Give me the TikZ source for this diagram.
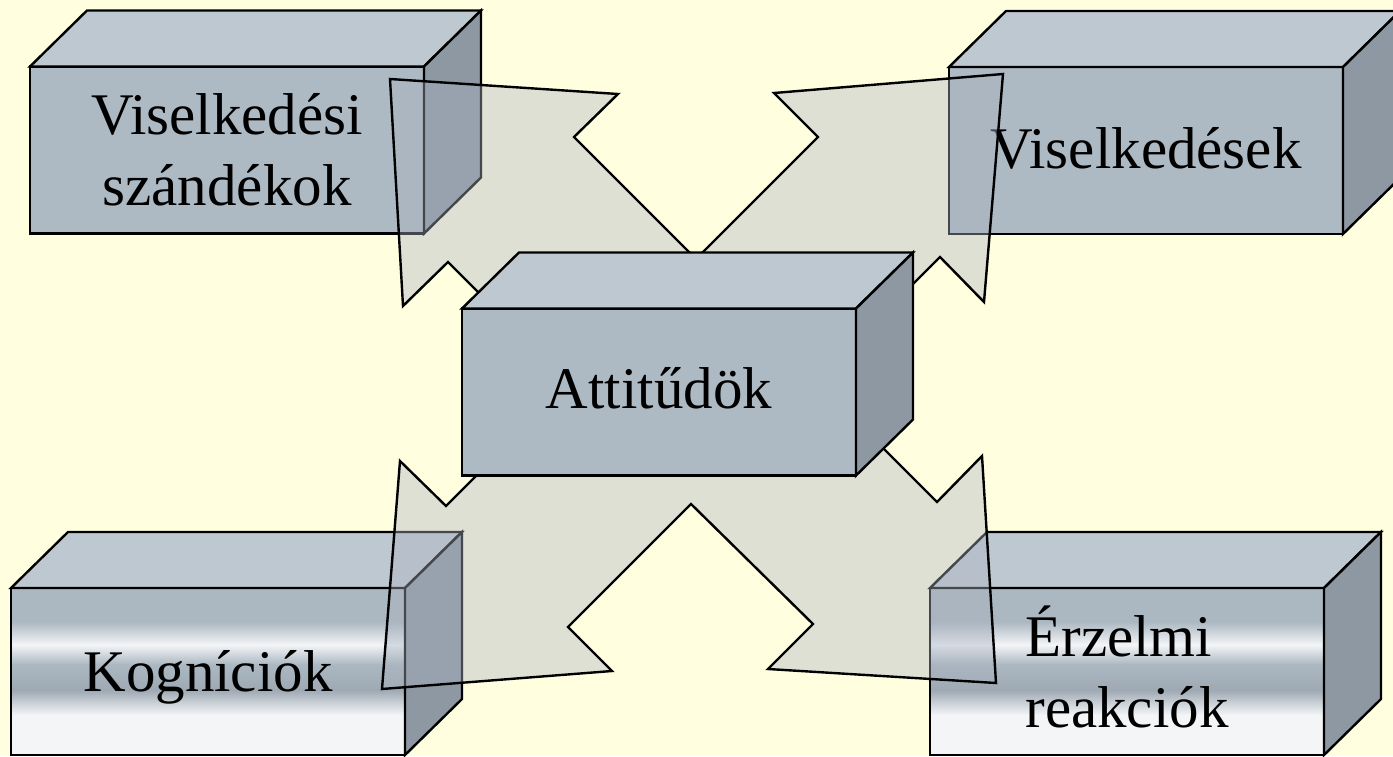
\documentclass[tikz,border=0pt]{standalone}
\usepackage{fontspec}
\setmainfont{Liberation Serif}

\definecolor{paper}{RGB}{255,255,224}
\definecolor{facefront}{RGB}{173,185,195}
\definecolor{facetop}{RGB}{190,200,209}
\definecolor{faceside}{RGB}{141,152,162}
\definecolor{metalgray}{RGB}{171,183,193}
\definecolor{metaldark}{RGB}{158,169,179}
\definecolor{metallight}{RGB}{243,245,247}
\definecolor{starfill}{RGB}{170,178,192}

% brushed-metal look for the lower boxes (25bp..75bp spans the face)
\pgfdeclareverticalshading{metalband}{100bp}{%
  color(0bp)=(metallight); color(25bp)=(metallight); color(37bp)=(metallight);
  color(44.5bp)=(metaldark); color(52bp)=(metalgray); color(58bp)=(metallight);
  color(65bp)=(metalgray); color(75bp)=(metalgray); color(100bp)=(metalgray)}

% top and right faces of a box whose front face is node #1
\newcommand\prismsides[1]{%
  \filldraw[topface] (#1.north west) -- ([xshift=57pt,yshift=56pt]#1.north west)
    -- ([xshift=57pt,yshift=56pt]#1.north east) -- (#1.north east) -- cycle;
  \filldraw[sideface] (#1.north east) -- ([xshift=57pt,yshift=56pt]#1.north east)
    -- ([xshift=57pt,yshift=56pt]#1.south east) -- (#1.south east) -- cycle;
}

\begin{document}
\begin{tikzpicture}[x=1pt,y=-1pt,
  edge/.style={draw=black,line width=2.4pt,line join=miter},
  frontface/.style={edge,rectangle,inner sep=0pt,outer sep=0pt,
    minimum width=394pt,minimum height=167pt,
    font=\fontsize{59}{71}\selectfont,align=center},
  plainface/.style={frontface,fill=facefront},
  metalface/.style={frontface,shade,shading=metalband},
  topface/.style={edge,fill=facetop},
  sideface/.style={edge,fill=faceside},
  starshape/.style={draw=black,line width=2.4pt,line join=miter,
    fill=starfill,fill opacity=0.4}]

\useasboundingbox (0,0) rectangle (1393,756);
\clip (0,0) rectangle (1393,756);
\fill[paper] (0,0) rectangle (1393,756);

% outer boxes
\node[plainface] (intent) at (227,150) {Viselkedési\\szándékok};
\prismsides{intent}
\node[plainface,text height=40pt,text depth=4pt] (behav) at (1146,150.5) {Viselkedések};
\prismsides{behav}
\node[metalface,text height=40pt,text depth=1pt] (cogn) at (208,671.5) {Kogníciók};
\prismsides{cogn}
\node[metalface,align=left] (emot) at (1127,671.5) {\smash{É}rzelmi\\reakciók};
\prismsides{emot}

% four-way block arrow
\path[starshape] (696,259) -- (574,137) -- (618,94) -- (390,79) -- (403,306)
  -- (448,262) -- (569,383) -- (446,506) -- (400,461) -- (382,689)
  -- (612,671) -- (568,627) -- (691,504) -- (813,624) -- (768,669)
  -- (996,683) -- (982,456) -- (937,502) -- (816,381) -- (940,257)
  -- (984,302) -- (1003,74) -- (774,93) -- (818,137) -- cycle;

% central box
\node[plainface,text height=40pt,text depth=8pt] (att) at (659,392) {Attitűdök};
\prismsides{att}
\end{tikzpicture}
\end{document}
